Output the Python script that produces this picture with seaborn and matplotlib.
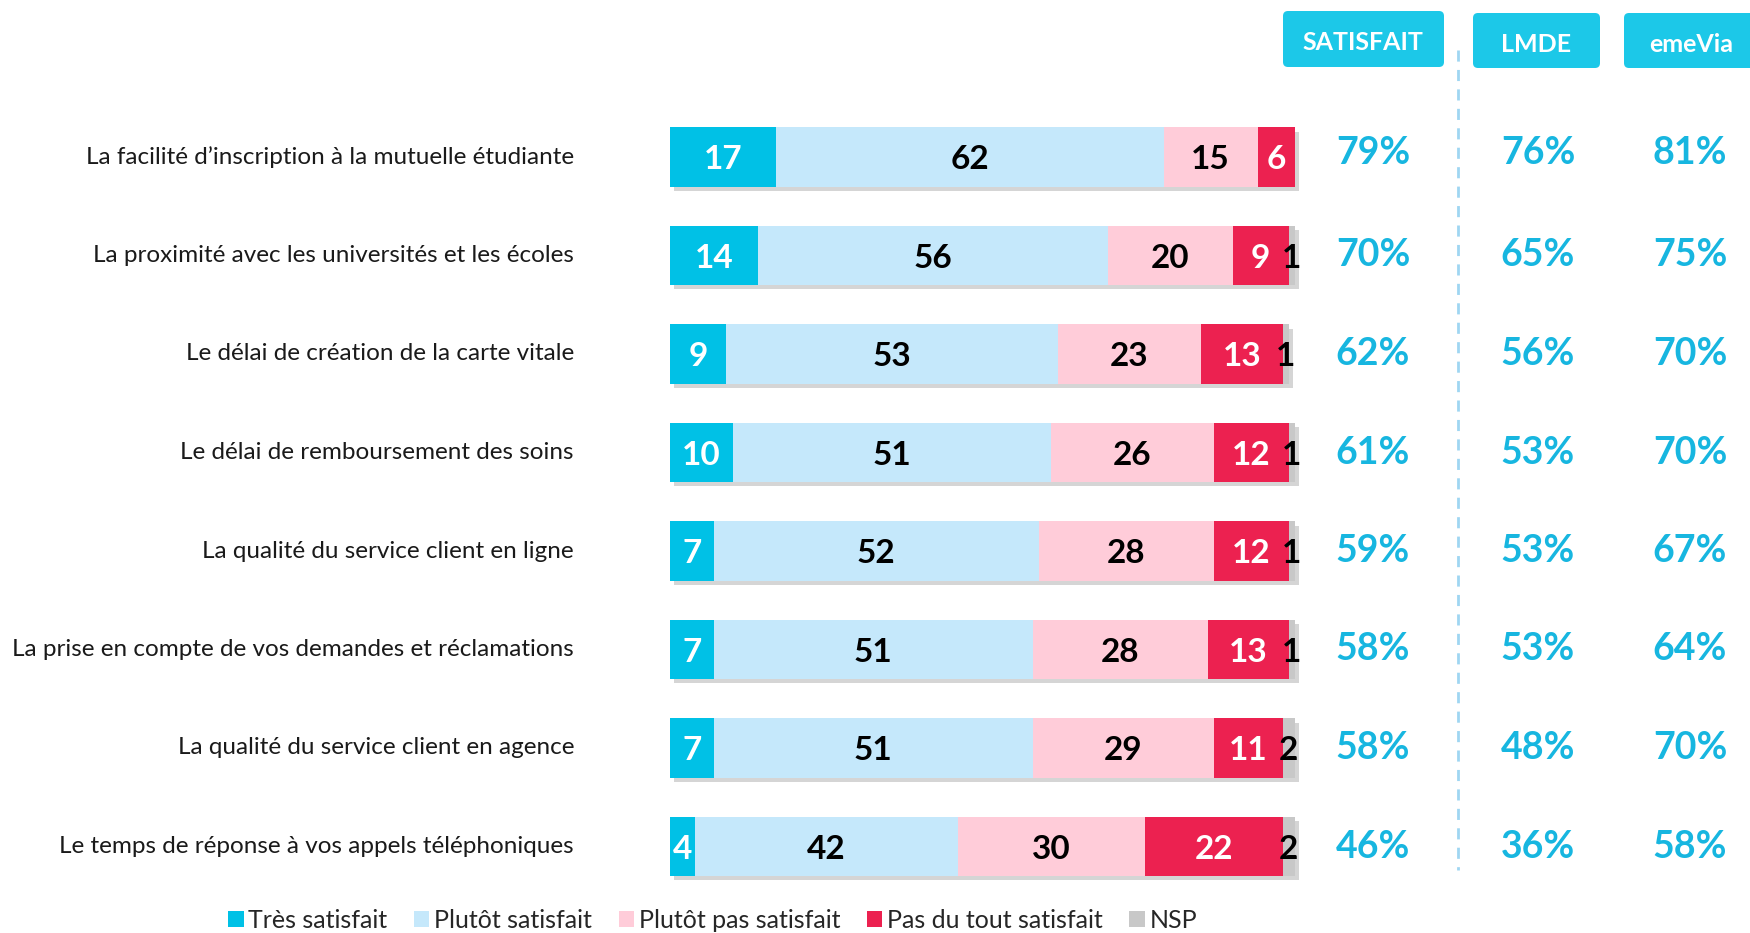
import matplotlib
matplotlib.use("Agg")
import matplotlib.pyplot as plt
import matplotlib.patheffects as pe
from matplotlib.patches import FancyBboxPatch, Patch
import seaborn as sns
import pandas as pd
import numpy as np

# ---------------- data ----------------
items = [
    "La facilité d’inscription à la mutuelle étudiante",
    "La proximité avec les universités et les écoles",
    "Le délai de création de la carte vitale",
    "Le délai de remboursement des soins",
    "La qualité du service client en ligne",
    "La prise en compte de vos demandes et réclamations",
    "La qualité du service client en agence",
    "Le temps de réponse à vos appels téléphoniques",
]
tres_satisfait = [17, 14, 9, 10, 7, 7, 7, 4]
plutot_satisfait = [62, 56, 53, 51, 52, 51, 51, 42]
plutot_pas_satisfait = [15, 20, 23, 26, 28, 28, 29, 30]
pas_du_tout_satisfait = [6, 9, 13, 12, 12, 13, 11, 22]
nsp = [0, 1, 1, 1, 1, 1, 2, 2]

satisfait_total = [79, 70, 62, 61, 59, 58, 58, 46]
lmde = [76, 65, 56, 53, 53, 53, 48, 36]
emevia = [81, 75, 70, 70, 67, 64, 70, 58]

series_names = ["Très satisfait", "Plutôt satisfait", "Plutôt pas satisfait",
                "Pas du tout satisfait", "NSP"]
column_headers = ["SATISFAIT", "LMDE", "emeVia"]

# ---------------- style ----------------
sns.set_theme(style="white")
plt.rcParams["font.family"] = ["Lato", "DejaVu Sans"]

colors = ["#00C1E6", "#C5E8FB", "#FFCCD9", "#EC2150", "#C8C8C8"]
text_colors = ["white", "black", "black", "white", "black"]
pct_color = "#17B6E0"
header_color = "#1CC8E8"

W, H = 1750, 933
fig = plt.figure(figsize=(W / 100, H / 100), dpi=100)
ax = fig.add_axes([0, 0, 1, 1])

# pixel mapping: x=0 -> 670px, 100 units -> 625px ; row i -> 157 + 98.5*i px
PX_PER_UNIT = 6.25
X0 = 670
ROW0, ROW_STEP = 157, 98.5

series = [tres_satisfait, plutot_satisfait, plutot_pas_satisfait,
          pas_du_tout_satisfait, nsp]
cum = np.cumsum(np.array(series), axis=0)

df = pd.DataFrame({"item": items})
for k in range(5):
    df[f"c{k}"] = cum[k]

# draw layers from the longest (cumulative) to the shortest
for k in range(4, -1, -1):
    sns.barplot(data=df, x=f"c{k}", y="item", orient="y", color=colors[k],
                saturation=1, width=0.6, ax=ax, errorbar=None,
                linewidth=0, edgecolor="none")

# shadow on the longest layer (first drawn)
for p in ax.patches[:len(items)]:
    p.set_path_effects([pe.SimplePatchShadow(offset=(3, -3), shadow_rgbFace="#777777", alpha=0.3),
                        pe.Normal()])

ax.set_xlim(-X0 / PX_PER_UNIT, (W - X0) / PX_PER_UNIT)
ax.set_ylim((H - ROW0) / ROW_STEP, -ROW0 / ROW_STEP)
ax.axis("off")

# segment labels
for i in range(len(items)):
    start = 0
    for k in range(5):
        v = series[k][i]
        if v > 0:
            ax.text(start + v / 2, i + 0.03, str(v), ha="center", va="center",
                    fontsize=24, fontweight="bold", color=text_colors[k])
        start += v

# row labels
for i, lab in enumerate(items):
    ax.text((574 - X0) / PX_PER_UNIT, i, lab, ha="right", va="center",
            fontsize=17.5, color="#1a1a1a")

# percentage columns
col_x = [1373, 1538, 1690]
for vals, cx in zip([satisfait_total, lmde, emevia], col_x):
    for i, v in enumerate(vals):
        ax.text((cx - X0) / PX_PER_UNIT, i - (0.04 if i == 0 else 0.0), f"{v}%",
                ha="center", va="center",
                fontsize=27, fontweight="bold", color=pct_color)

# dashed separator
xd = (1458 - X0) / PX_PER_UNIT
ax.plot([xd, xd], [(50 - ROW0) / ROW_STEP, (870 - ROW0) / ROW_STEP],
        color="#9FD6F2", lw=2, ls=(0, (4, 3)))

# header boxes (pixel boxes -> figure fraction)
boxes = [(1283, 11, 1444, 67), (1473, 13, 1600, 68), (1624, 13, 1765, 68)]
text_cx = [1363, 1536, 1691]
for (x1, y1, x2, y2), txt, tcx in zip(boxes, column_headers, text_cx):
    r = FancyBboxPatch((x1 / W, 1 - y2 / H), (x2 - x1) / W, (y2 - y1) / H,
                       boxstyle=f"round,pad=0,rounding_size={5 / W}",
                       mutation_aspect=W / H, transform=fig.transFigure,
                       facecolor=header_color, edgecolor="none")
    fig.add_artist(r)
    fig.text(tcx / W, 1 - ((y1 + y2) / 2 + 4) / H, txt, ha="center", va="center",
             fontsize=18, fontweight="bold", color="white")

# legend
handles = [Patch(facecolor=c, edgecolor="none", label=n) for c, n in zip(colors, series_names)]
fig.legend(handles=handles, loc="center left", bbox_to_anchor=(228 / W, 1 - 920 / H),
           ncol=5, frameon=False, fontsize=18, handlelength=0.62, handleheight=0.62,
           handletextpad=0.2, columnspacing=1.05, borderaxespad=0, borderpad=0)

fig.savefig("out.png", dpi=100)
